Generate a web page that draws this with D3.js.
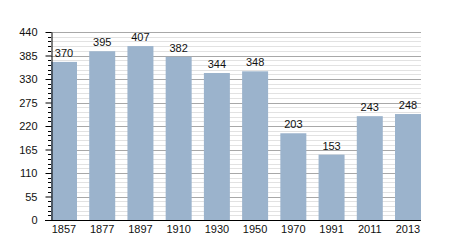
<!DOCTYPE html>
<html>
<head>
<meta charset="utf-8">
<script src="https://cdn.jsdelivr.net/npm/d3@7"></script>
<style>
  body { margin: 0; background: #fff; }
  text { font-family: "Liberation Sans", Arial, sans-serif; font-size: 11px; fill: #111; }
</style>
</head>
<body>
<svg id="chart" width="450" height="250"></svg>
<script>
const years = ['1857', '1877', '1897', '1910', '1930', '1950', '1970', '1991', '2011', '2013'];
const population = [370, 395, 407, 382, 344, 348, 203, 153, 243, 248];
const yTicks = [0, 55, 110, 165, 220, 275, 330, 385, 440];

const margin = { left: 51, right: 29, top: 32, bottom: 30 };
const width = 450, height = 250;

const svg = d3.select('#chart');

const x = d3.scaleBand()
  .domain(years)
  .range([margin.left, width - margin.right])
  .paddingInner(0.32)
  .paddingOuter(0);

const y = d3.scaleLinear()
  .domain([0, 440])
  .range([height - margin.bottom, margin.top]);

// minor grid every 11
const minor = d3.range(0, 441, 11).filter(v => v % 55 !== 0);
svg.append('g').selectAll('line')
  .data(minor)
  .enter().append('line')
  .attr('x1', margin.left).attr('x2', width - margin.right)
  .attr('y1', d => Math.round(y(d)) + 0.5).attr('y2', d => Math.round(y(d)) + 0.5)
  .style('stroke', '#e2e2e2');

svg.append('g').selectAll('line')
  .data(yTicks.filter(v => v > 0))
  .enter().append('line')
  .attr('x1', margin.left).attr('x2', width - margin.right)
  .attr('y1', d => Math.round(y(d)) + 0.5).attr('y2', d => Math.round(y(d)) + 0.5)
  .style('stroke', '#a8a8a8');

// bars
svg.append('g').selectAll('rect')
  .data(population)
  .enter().append('rect')
  .attr('x', (d, i) => x(years[i]))
  .attr('width', x.bandwidth())
  .attr('y', d => y(d))
  .attr('height', d => y(0) - y(d))
  .style('fill', '#9bb3cc');

// value labels
svg.append('g').selectAll('text')
  .data(population)
  .enter().append('text')
  .attr('x', (d, i) => x(years[i]) + x.bandwidth() / 2)
  .attr('y', d => y(d) - 5)
  .attr('text-anchor', 'middle')
  .text(d => d);

// y axis with minor ticks
svg.append('g').selectAll('line')
  .data(minor)
  .enter().append('line')
  .attr('x1', margin.left - 3).attr('x2', margin.left)
  .attr('y1', d => Math.round(y(d)) + 0.5).attr('y2', d => Math.round(y(d)) + 0.5)
  .style('stroke', '#000');

const yAxis = svg.append('g')
  .attr('transform', `translate(${margin.left + 0.5},0)`)
  .call(d3.axisLeft(y).tickValues(yTicks).tickSize(6).tickSizeOuter(0).tickPadding(8));
yAxis.select('.domain').attr('stroke', '#000');
yAxis.selectAll('.tick text').style('font-size', '11px').style('font-family', '"Liberation Sans", Arial, sans-serif').attr('fill', '#111');

// x axis line
svg.append('line')
  .attr('x1', margin.left - 6).attr('x2', width - margin.right)
  .attr('y1', Math.round(y(0)) + 0.5).attr('y2', Math.round(y(0)) + 0.5)
  .style('stroke', '#000');

svg.append('g').selectAll('text')
  .data(years)
  .enter().append('text')
  .attr('x', d => x(d) + x.bandwidth() / 2)
  .attr('y', y(0) + 13)
  .attr('text-anchor', 'middle')
  .text(d => d);
</script>
</body>
</html>
